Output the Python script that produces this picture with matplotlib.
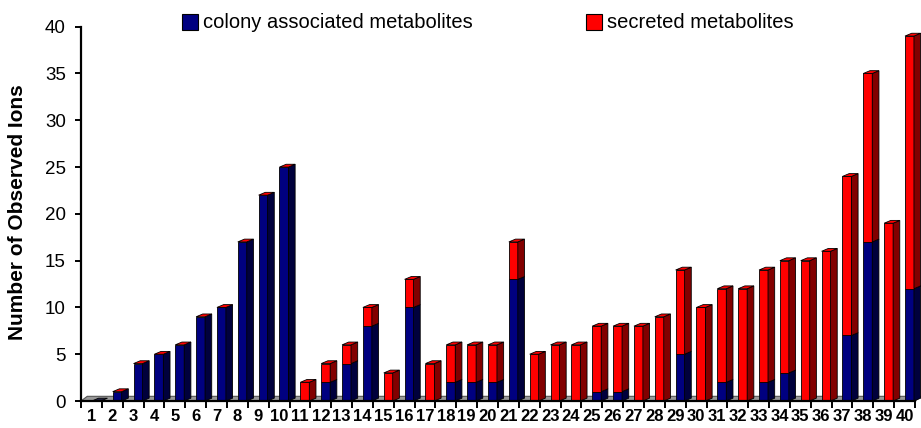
import matplotlib.pyplot as plt
from matplotlib.patches import Polygon, Rectangle

# values
categories = [str(i) for i in range(1, 41)]
colony = [0, 1, 4, 5, 6, 9, 10, 17, 22, 25,
          0, 2, 4, 8, 0, 10, 0, 2, 2, 2,
          13, 0, 0, 0, 1, 1, 0, 0, 5, 0,
          2, 0, 2, 3, 0, 0, 7, 17, 0, 12]
secreted = [0, 0, 0, 0, 0, 0, 0, 0, 0, 0,
            2, 2, 2, 2, 3, 3, 4, 4, 4, 4,
            4, 5, 6, 6, 7, 7, 8, 9, 9, 10,
            10, 12, 12, 12, 15, 16, 17, 18, 19, 27]
series_names = ["colony associated metabolites", "secreted metabolites"]
y_ticks = [0, 5, 10, 15, 20, 25, 30, 35, 40]

W, H = 921, 428
BLUE, BLUE_SIDE = "#000080", "#00003c"
RED, RED_SIDE = "#ff0000", "#820000"

# fake 3d look
bar_off = 0.52    # front face start inside the category
bar_w = 0.43
dx = 0.32         # depth offset in category units
dy = 0.30         # depth offset in value units
floor_dx, floor_dy = 0.3, 0.5


def draw_segment(ax, x0, y0, y1, face, side, z):
    ax.add_patch(Rectangle((x0, y0), bar_w, y1 - y0, facecolor=face,
                           edgecolor="black", lw=0.6, zorder=z, clip_on=False))
    pts = [(x0 + bar_w, y0), (x0 + bar_w + dx, y0 + dy),
           (x0 + bar_w + dx, y1 + dy), (x0 + bar_w, y1)]
    ax.add_patch(Polygon(pts, closed=True, facecolor=side, edgecolor="black",
                         lw=0.6, zorder=z, clip_on=False))


def draw_top(ax, x0, y, color, z):
    pts = [(x0, y), (x0 + dx, y + dy), (x0 + bar_w + dx, y + dy), (x0 + bar_w, y)]
    ax.add_patch(Polygon(pts, closed=True, facecolor=color, edgecolor="black",
                         lw=0.6, zorder=z, clip_on=False))


fig = plt.figure(figsize=(W / 100, H / 100), dpi=100)
ax = fig.add_axes([81 / W, (H - 401) / H, 834 / W, (401 - 26.7) / H])
ax.set_xlim(0, len(categories))
ax.set_ylim(0, 40)

# floor
n = len(categories)
floor = [(0, 0), (n, 0), (n + floor_dx, floor_dy), (floor_dx, floor_dy)]
ax.add_patch(Polygon(floor, closed=True, facecolor="#999999", edgecolor="#555555",
                     lw=0.8, zorder=1, clip_on=False))

for i, (c, s) in enumerate(zip(colony, secreted)):
    x0 = i + bar_off
    z = 3 + i * 0.01
    if c > 0:
        draw_segment(ax, x0, 0, c, BLUE, BLUE_SIDE, z)
    if s > 0:
        draw_segment(ax, x0, c, c + s, RED, RED_SIDE, z)
    draw_top(ax, x0, c + s, RED if c + s > 0 else "#222244", z)

# axes styling
for side in ["top", "right"]:
    ax.spines[side].set_visible(False)
ax.spines["left"].set_linewidth(1.6)
ax.spines["bottom"].set_linewidth(1.6)
ax.spines["bottom"].set_zorder(5)

ax.set_yticks(y_ticks)
ax.tick_params(axis="y", direction="out", length=4, width=1.4, pad=7,
               labelsize=13.5)
ax.set_xticks(range(n + 1))
ax.set_xticklabels([])
ax.set_xticks([i + 0.5 for i in range(n)], minor=True)
ax.set_xticklabels(categories, minor=True, fontweight="bold", fontsize=12,
                   family="Liberation Sans")
ax.tick_params(axis="x", which="major", direction="out", length=5, width=1.4)
ax.tick_params(axis="x", which="minor", length=0, pad=6)
for lab in ax.get_yticklabels():
    lab.set_family("Liberation Sans")

fig.text(18 / W, 1 - 212 / H, "Number of Observed Ions", rotation=90,
         fontsize=15, fontweight="bold", family="Liberation Sans",
         ha="center", va="center")

# legend
legend_items = [(181.7, BLUE, series_names[0]), (586, RED, series_names[1])]
for x, color, name in legend_items:
    fig.patches.append(Rectangle((x / W, 1 - 30 / H), 16 / W, 16 / H,
                                 transform=fig.transFigure, facecolor=color,
                                 edgecolor="black", lw=0.8))
    fig.text((x + 21) / W, 1 - 22 / H, name, fontsize=14.5,
             family="Liberation Sans", ha="left", va="center")

fig.savefig("out.png", dpi=100)
